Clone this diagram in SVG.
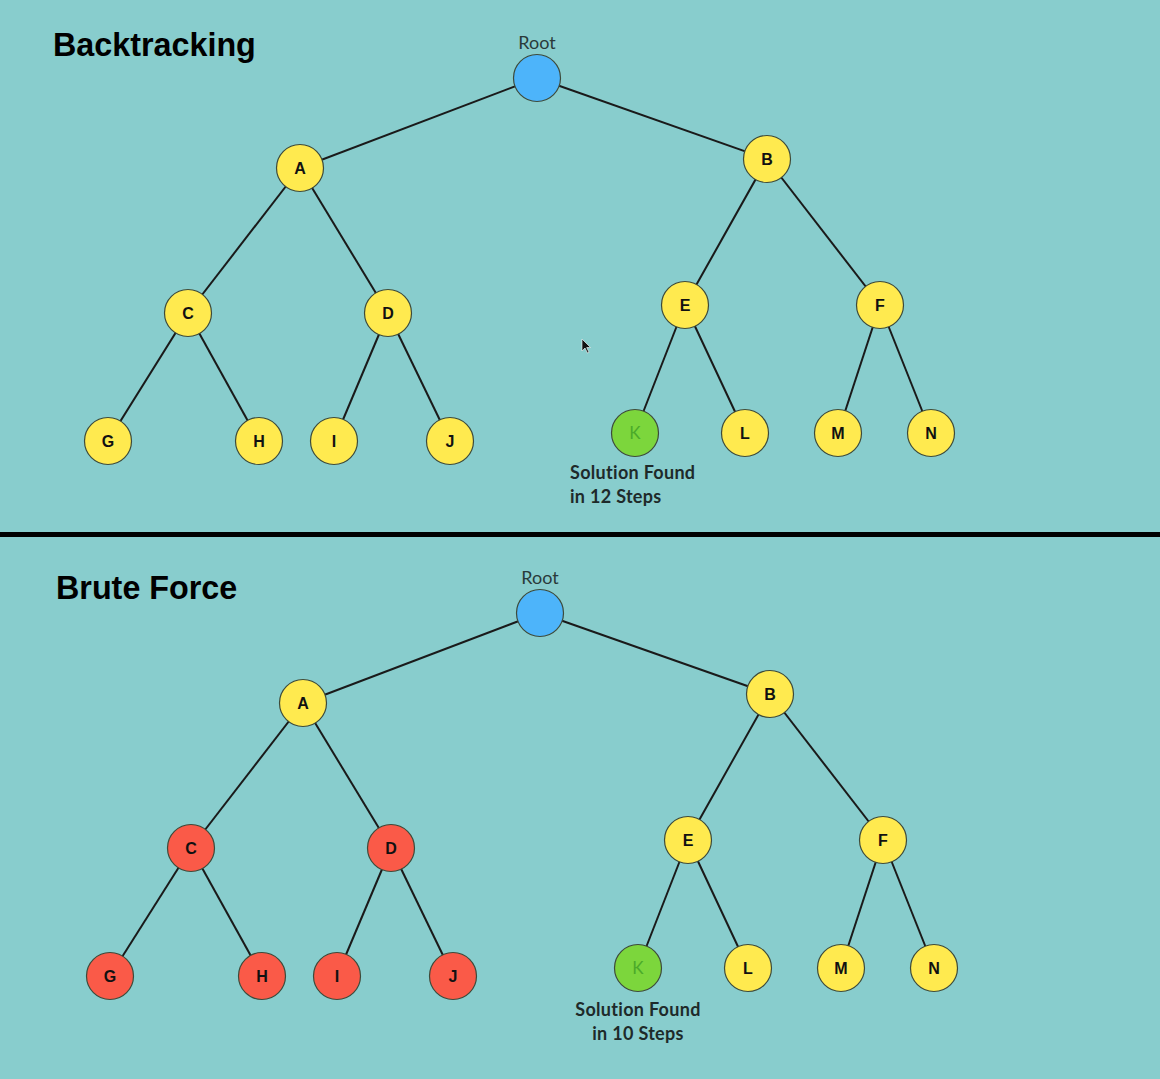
<svg xmlns="http://www.w3.org/2000/svg" width="1160" height="1079" viewBox="0 0 1160 1079">
<style>
.bg{fill:#88CDCD}
.edge{stroke:#1a1a1a;stroke-width:2;fill:none}
circle{stroke:#3d4a3a;stroke-width:1.2}
.y{fill:#FFEA4F}
.b{fill:#4DB4FA}
.g{fill:#7CD63C}
.r{fill:#FA5A48}
.lbl{font-family:"Liberation Sans",Arial,sans-serif;font-weight:bold;font-size:16px;fill:#111;text-anchor:middle}
.klbl{font-family:"Lato","Liberation Sans",sans-serif;font-size:17px;fill:#4BAA2A;text-anchor:middle}
.title{font-family:"Liberation Sans",Arial,sans-serif;font-weight:bold;font-size:32.3px;fill:#000}
.root{font-family:"Lato","Liberation Sans",sans-serif;font-size:18px;fill:#2a3a3a;text-anchor:middle}
.sol{font-family:"Lato","Liberation Sans",sans-serif;font-weight:bold;font-size:18px;letter-spacing:0.3px;fill:#1e2a2a}
</style>
<rect class="bg" x="0" y="0" width="1160" height="1079"/>
<rect x="0" y="532" width="1160" height="5" fill="#000"/>
<text class="title" x="53" y="56">Backtracking</text>
<text class="title" x="56" y="599">Brute Force</text>

<g id="connectors">
<line class="edge" x1="537" y1="78" x2="300" y2="168"/>
<line class="edge" x1="537" y1="78" x2="767" y2="159"/>
<line class="edge" x1="300" y1="168" x2="188" y2="313"/>
<line class="edge" x1="300" y1="168" x2="388" y2="313"/>
<line class="edge" x1="767" y1="159" x2="685" y2="305"/>
<line class="edge" x1="767" y1="159" x2="880" y2="305"/>
<line class="edge" x1="188" y1="313" x2="108" y2="441"/>
<line class="edge" x1="188" y1="313" x2="259" y2="441"/>
<line class="edge" x1="388" y1="313" x2="334" y2="441"/>
<line class="edge" x1="388" y1="313" x2="450" y2="441"/>
<line class="edge" x1="685" y1="305" x2="635" y2="433"/>
<line class="edge" x1="685" y1="305" x2="745" y2="433"/>
<line class="edge" x1="880" y1="305" x2="838" y2="433"/>
<line class="edge" x1="880" y1="305" x2="931" y2="433"/>
<line class="edge" x1="540" y1="613" x2="303" y2="703"/>
<line class="edge" x1="540" y1="613" x2="770" y2="694"/>
<line class="edge" x1="303" y1="703" x2="191" y2="848"/>
<line class="edge" x1="303" y1="703" x2="391" y2="848"/>
<line class="edge" x1="770" y1="694" x2="688" y2="840"/>
<line class="edge" x1="770" y1="694" x2="883" y2="840"/>
<line class="edge" x1="191" y1="848" x2="110" y2="976"/>
<line class="edge" x1="191" y1="848" x2="262" y2="976"/>
<line class="edge" x1="391" y1="848" x2="337" y2="976"/>
<line class="edge" x1="391" y1="848" x2="453" y2="976"/>
<line class="edge" x1="688" y1="840" x2="638" y2="968"/>
<line class="edge" x1="688" y1="840" x2="748" y2="968"/>
<line class="edge" x1="883" y1="840" x2="841" y2="968"/>
<line class="edge" x1="883" y1="840" x2="934" y2="968"/>
</g>

<g id="t-root"><circle class="b" cx="537" cy="78" r="23.5"/><text class="root" x="537" y="49">Root</text></g>
<g id="t-A"><circle class="y" cx="300" cy="168" r="23.5"/><text class="lbl" x="300" y="173.5">A</text></g>
<g id="t-B"><circle class="y" cx="767" cy="159" r="23.5"/><text class="lbl" x="767" y="164.5">B</text></g>
<g id="t-C"><circle class="y" cx="188" cy="313" r="23.5"/><text class="lbl" x="188" y="318.5">C</text></g>
<g id="t-D"><circle class="y" cx="388" cy="313" r="23.5"/><text class="lbl" x="388" y="318.5">D</text></g>
<g id="t-E"><circle class="y" cx="685" cy="305" r="23.5"/><text class="lbl" x="685" y="310.5">E</text></g>
<g id="t-F"><circle class="y" cx="880" cy="305" r="23.5"/><text class="lbl" x="880" y="310.5">F</text></g>
<g id="t-G"><circle class="y" cx="108" cy="441" r="23.5"/><text class="lbl" x="108" y="446.5">G</text></g>
<g id="t-H"><circle class="y" cx="259" cy="441" r="23.5"/><text class="lbl" x="259" y="446.5">H</text></g>
<g id="t-I"><circle class="y" cx="334" cy="441" r="23.5"/><text class="lbl" x="334" y="446.5">I</text></g>
<g id="t-J"><circle class="y" cx="450" cy="441" r="23.5"/><text class="lbl" x="450" y="446.5">J</text></g>
<g id="t-K"><circle class="g" cx="635" cy="433" r="23.5"/><text class="klbl" x="635" y="439">K</text>
<text class="sol" x="570" y="479">Solution Found</text><text class="sol" x="570" y="503">in 12 Steps</text></g>
<g id="t-L"><circle class="y" cx="745" cy="433" r="23.5"/><text class="lbl" x="745" y="438.5">L</text></g>
<g id="t-M"><circle class="y" cx="838" cy="433" r="23.5"/><text class="lbl" x="838" y="438.5">M</text></g>
<g id="t-N"><circle class="y" cx="931" cy="433" r="23.5"/><text class="lbl" x="931" y="438.5">N</text></g>

<g id="b-root"><circle class="b" cx="540" cy="613" r="23.5"/><text class="root" x="540" y="584">Root</text></g>
<g id="b-A"><circle class="y" cx="303" cy="703" r="23.5"/><text class="lbl" x="303" y="708.5">A</text></g>
<g id="b-B"><circle class="y" cx="770" cy="694" r="23.5"/><text class="lbl" x="770" y="699.5">B</text></g>
<g id="b-C"><circle class="r" cx="191" cy="848" r="23.5"/><text class="lbl" x="191" y="853.5">C</text></g>
<g id="b-D"><circle class="r" cx="391" cy="848" r="23.5"/><text class="lbl" x="391" y="853.5">D</text></g>
<g id="b-E"><circle class="y" cx="688" cy="840" r="23.5"/><text class="lbl" x="688" y="845.5">E</text></g>
<g id="b-F"><circle class="y" cx="883" cy="840" r="23.5"/><text class="lbl" x="883" y="845.5">F</text></g>
<g id="b-G"><circle class="r" cx="110" cy="976" r="23.5"/><text class="lbl" x="110" y="981.5">G</text></g>
<g id="b-H"><circle class="r" cx="262" cy="976" r="23.5"/><text class="lbl" x="262" y="981.5">H</text></g>
<g id="b-I"><circle class="r" cx="337" cy="976" r="23.5"/><text class="lbl" x="337" y="981.5">I</text></g>
<g id="b-J"><circle class="r" cx="453" cy="976" r="23.5"/><text class="lbl" x="453" y="981.5">J</text></g>
<g id="b-K"><circle class="g" cx="638" cy="968" r="23.5"/><text class="klbl" x="638" y="974">K</text>
<text class="sol" x="638" y="1016" text-anchor="middle">Solution Found</text><text class="sol" x="638" y="1040" text-anchor="middle">in 10 Steps</text></g>
<g id="b-L"><circle class="y" cx="748" cy="968" r="23.5"/><text class="lbl" x="748" y="973.5">L</text></g>
<g id="b-M"><circle class="y" cx="841" cy="968" r="23.5"/><text class="lbl" x="841" y="973.5">M</text></g>
<g id="b-N"><circle class="y" cx="934" cy="968" r="23.5"/><text class="lbl" x="934" y="973.5">N</text></g>

<polygon points="582,339 582,351 585,348 587.5,353 589,352.3 586.7,347.5 590.5,347.5" fill="#111" stroke="#fff" stroke-width="0.6"/>
</svg>
